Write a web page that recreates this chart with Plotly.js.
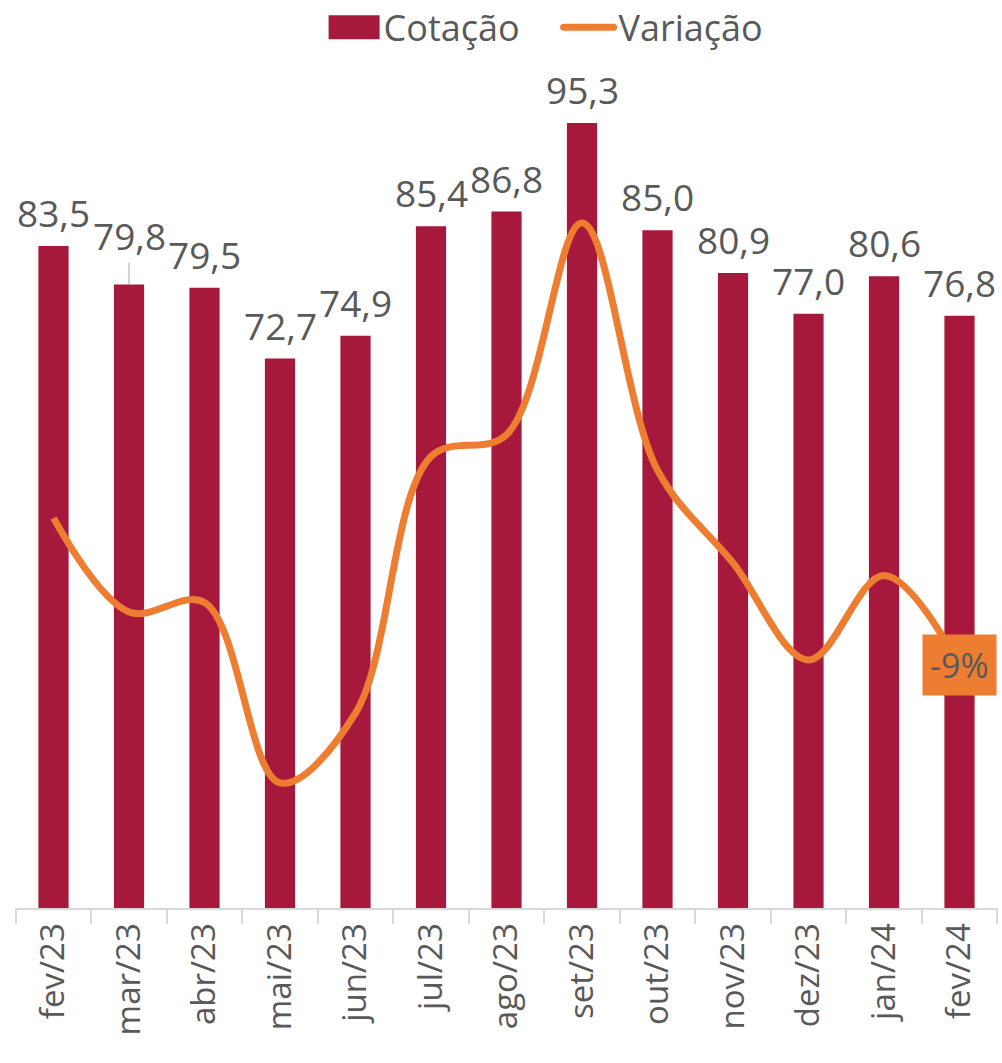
<!DOCTYPE html>
<html>
<head>
<meta charset="utf-8">
<script src="https://cdn.plot.ly/plotly-3.0.1.min.js"></script>
<style>html,body{margin:0;padding:0;background:#fff;}#chart{width:1002px;height:1063px;}</style>
</head>
<body>
<div id="chart"></div>
<script>
const months = ["fev/23","mar/23","abr/23","mai/23","jun/23","jul/23","ago/23","set/23","out/23","nov/23","dez/23","jan/24","fev/24"];
const cotacao = [83.5, 79.8, 79.5, 72.7, 74.9, 85.4, 86.8, 95.3, 85.0, 80.9, 77.0, 80.6, 76.8];
const variacao = [5.1, -3.9, -3.0, -20.3, -13.6, 11.0, 13.1, 33.4, 9.7, 0.8, -8.5, -0.4, -9.0];
const lastLabel = "-9%";

const grey = "#595959";
const fontFam = "Open Sans, Noto Sans, sans-serif";
const fmt = v => v.toFixed(1).replace(".", ",");

const bars = {
  type: "bar", name: "Cotação", x: months, y: cotacao,
  marker: {color: "#A6193C"}, width: 0.4, hoverinfo: "skip"
};
const line = {
  type: "scatter", mode: "lines", name: "Variação", x: months, y: variacao,
  yaxis: "y2", line: {color: "#ED7D31", width: 7, shape: "spline", smoothing: 1},
  hoverinfo: "skip"
};

const annotations = months.map((m, i) => {
  const a = {
    x: m, y: cotacao[i], xref: "x", yref: "y", text: fmt(cotacao[i]),
    showarrow: false, yanchor: "bottom", yshift: 6,
    font: {family: fontFam, size: 37, color: grey}
  };
  if (m === "mar/23") {
    Object.assign(a, {showarrow: true, arrowhead: 0, arrowwidth: 1, arrowcolor: "#A6A6A6",
      ax: 0, ay: -22, yshift: 0, standoff: 0});
  }
  return a;
});
annotations.push({
  x: months[months.length - 1], y: variacao[variacao.length - 1], xref: "x", yref: "y2",
  text: lastLabel, showarrow: false, bgcolor: "#ED7D31", borderpad: 7,
  font: {family: fontFam, size: 34, color: grey}, xanchor: "center", yanchor: "middle"
});

const layout = {
  width: 1002, height: 1063,
  margin: {l: 15, r: 4, t: 74, b: 155, autoexpand: false},
  paper_bgcolor: "#fff", plot_bgcolor: "#fff",
  showlegend: true,
  legend: {orientation: "h", x: 0.553, xanchor: "center", y: 1.092, yanchor: "top",
    font: {family: fontFam, size: 36, color: grey}, itemwidth: 50, traceorder: "normal",
    entrywidth: 170, entrywidthmode: "pixels",
    bgcolor: "rgba(0,0,0,0)"},
  xaxis: {
    type: "category", showgrid: false, zeroline: false,
    showline: true, linecolor: "#D9D9D9", linewidth: 2,
    ticks: "outside", tickson: "boundaries", ticklen: 14, tickcolor: "#D9D9D9", tickwidth: 2,
    tickangle: -90, tickfont: {family: fontFam, size: 33, color: grey}
  },
  yaxis: {range: [20, 100], visible: false, showgrid: false, zeroline: false},
  yaxis2: {range: [-32.3, 47.7], overlaying: "y", visible: false, showgrid: false, zeroline: false},
  annotations: annotations
};

Plotly.newPlot("chart", [bars, line], layout, {displayModeBar: false, staticPlot: true}).then(gd => {
  // enlarge the bar legend swatch to the wide rectangle of the original
  gd.querySelectorAll(".legend .traces .legendpoints path.legendundefined").forEach(p => {
    p.setAttribute("d", "M-25,-12H26V12H-25Z");
  });
  gd.querySelectorAll(".legend .traces .legendlines path").forEach(p => {
    p.style.strokeLinecap = "round";
  });
});
</script>
</body>
</html>
